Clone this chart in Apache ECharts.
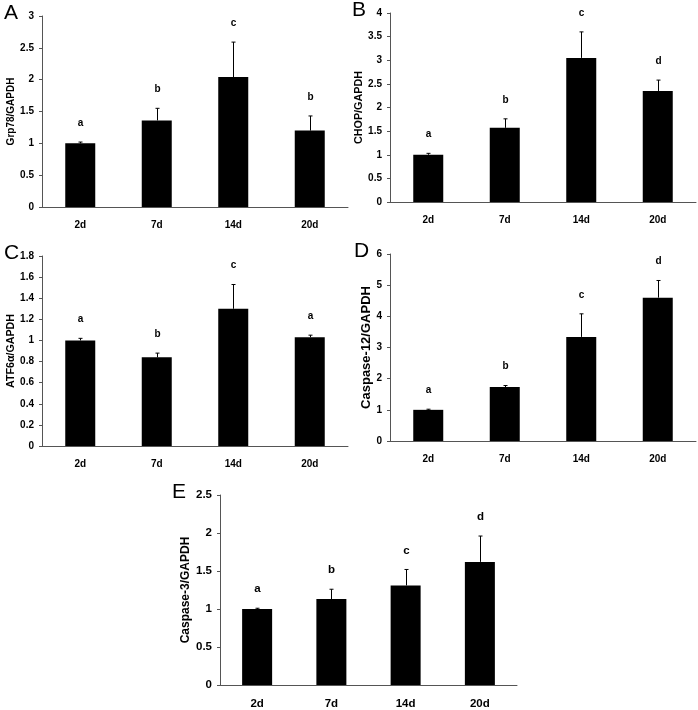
<!DOCTYPE html>
<html>
<head>
<meta charset="utf-8">
<script src="https://cdn.jsdelivr.net/npm/echarts@6/dist/echarts.min.js"></script>
<style>
  html, body { margin: 0; padding: 0; background: #fff; }
  #chart { width: 698px; height: 710px; }
</style>
</head>
<body>
<div id="chart"></div>
<script>
const days = ['2d', '7d', '14d', '20d']

const grpVals = [1.0, 1.36, 2.04, 1.2]
const grpErr = [0.02, 0.19, 0.55, 0.23]
const grpSig = ['a', 'b', 'c', 'b']

const chopVals = [1.0, 1.57, 3.05, 2.35]
const chopErr = [0.03, 0.19, 0.55, 0.23]
const chopSig = ['a', 'b', 'c', 'd']

const atfVals = [1.0, 0.84, 1.3, 1.03]
const atfErr = [0.02, 0.04, 0.23, 0.02]
const atfSig = ['a', 'b', 'c', 'a']

const casp12Vals = [1.0, 1.73, 3.34, 4.6]
const casp12Err = [0.02, 0.05, 0.74, 0.55]
const casp12Sig = ['a', 'b', 'c', 'd']

const casp3Vals = [1.0, 1.13, 1.31, 1.62]
const casp3Err = [0.01, 0.13, 0.21, 0.34]
const casp3Sig = ['a', 'b', 'c', 'd']

// each panel was scaled a bit differently in the source figure, hence per-panel font sizes
const panels = [
  { tag: 'A', name: 'Grp78/GAPDH', vals: grpVals, err: grpErr, sig: grpSig, max: 3, step: 0.5,
    nameSize: 10, nameGap: 25, labelSize: 10, tagDx: 38,
    grid: { left: 42, top: 16, width: 306, height: 191 } },
  { tag: 'B', name: 'CHOP/GAPDH', vals: chopVals, err: chopErr, sig: chopSig, max: 4, step: 0.5,
    nameSize: 10.8, nameGap: 24, labelSize: 10, tagDx: 38,
    grid: { left: 390, top: 13, width: 306, height: 189 } },
  { tag: 'C', name: 'ATF6α/GAPDH', vals: atfVals, err: atfErr, sig: atfSig, max: 1.8, step: 0.2,
    nameSize: 10.7, nameGap: 24, labelSize: 10, tagDx: 38,
    grid: { left: 42, top: 256, width: 306, height: 190 } },
  { tag: 'D', name: 'Caspase-12/GAPDH', vals: casp12Vals, err: casp12Err, sig: casp12Sig, max: 6, step: 1,
    nameSize: 13, nameGap: 15, labelSize: 10, tagDx: 36,
    grid: { left: 390, top: 254, width: 306, height: 187 } },
  { tag: 'E', name: 'Caspase-3/GAPDH', vals: casp3Vals, err: casp3Err, sig: casp3Sig, max: 2.5, step: 0.5,
    nameSize: 12, nameGap: 26, labelSize: 11.5, tagDx: 48,
    grid: { left: 220, top: 495, width: 297, height: 191 } }
]

const font = 'Liberation Sans, Arial, sans-serif'
const axisColor = '#555'

const chart = echarts.init(document.getElementById('chart'))

const grids = []
const xAxes = []
const yAxes = []
const series = []
const graphics = []

panels.forEach((p, i) => {
  grids.push(p.grid)
  xAxes.push({
    type: 'category',
    gridIndex: i,
    data: days,
    axisLine: { lineStyle: { color: axisColor, width: 1 } },
    axisTick: { inside: true, length: 3, lineStyle: { color: axisColor } },
    axisLabel: { color: '#000', fontWeight: 'bold', fontSize: p.labelSize, fontFamily: font, margin: 13 }
  })
  yAxes.push({
    type: 'value',
    gridIndex: i,
    min: 0,
    max: p.max,
    interval: p.step,
    name: p.name,
    nameLocation: 'middle',
    nameGap: p.nameGap,
    nameTextStyle: { color: '#000', fontWeight: 'bold', fontSize: p.nameSize, fontFamily: font },
    axisLine: { show: true, lineStyle: { color: axisColor, width: 1 } },
    axisTick: { show: true, length: 3, lineStyle: { color: axisColor } },
    splitLine: { show: false },
    axisLabel: { color: '#000', fontWeight: 'bold', fontSize: p.labelSize, fontFamily: font, margin: 8 }
  })
  series.push({
    type: 'bar',
    xAxisIndex: i,
    yAxisIndex: i,
    data: p.vals,
    barWidth: 30,
    itemStyle: { color: '#000' },
    silent: true
  })
  // error bar (upper whisker only) with the significance letter above it
  series.push({
    type: 'custom',
    xAxisIndex: i,
    yAxisIndex: i,
    data: p.vals.map((v, j) => [j, v, v + p.err[j]]),
    z: 5,
    renderItem: (params, api) => {
      const base = api.coord([api.value(0), api.value(1)])
      const top = api.coord([api.value(0), api.value(2)])
      const x = Math.round(base[0]) + 0.5
      return {
        type: 'group',
        children: [
          { type: 'line', shape: { x1: x, y1: base[1], x2: x, y2: top[1] },
            style: { stroke: '#000', lineWidth: 1 } },
          { type: 'line', shape: { x1: x - 2, y1: top[1], x2: x + 2, y2: top[1] },
            style: { stroke: '#000', lineWidth: 1 } },
          { type: 'text', x: x, y: top[1] - 19,
            style: { text: p.sig[params.dataIndex], fill: '#000', font: 'bold ' + p.labelSize + 'px ' + font,
                     textAlign: 'center', textVerticalAlign: 'middle' } }
        ]
      }
    }
  })
  graphics.push({
    type: 'text',
    left: p.grid.left - p.tagDx,
    top: p.grid.top - 13,
    style: { text: p.tag, fill: '#000', font: '21px ' + font }
  })
})

chart.setOption({
  animation: false,
  grid: grids,
  xAxis: xAxes,
  yAxis: yAxes,
  series: series,
  graphic: graphics
})

window.addEventListener('resize', () => chart.resize())
</script>
</body>
</html>
